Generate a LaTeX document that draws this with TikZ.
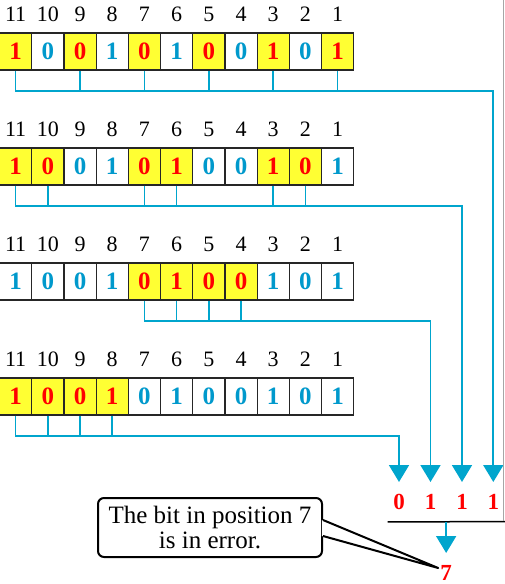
\documentclass[tikz,border=0pt]{standalone}
\usepackage{fontspec}
\setmainfont{Liberation Serif}
\usetikzlibrary{positioning, arrows.meta, calc}

\definecolor{bitcyan}{RGB}{0,153,204}
\definecolor{buscyan}{RGB}{0,165,205}
\definecolor{markyellow}{RGB}{255,255,51}
\definecolor{bitred}{RGB}{255,0,0}

\begin{document}
\begin{tikzpicture}[x=1pt, y=-1pt,
cellnode/.style={rectangle, draw=black!85, line width=1.2pt, minimum width=32.2pt, minimum height=37pt, inner sep=0pt, font=\fontsize{25}{25}\selectfont\bfseries},
paritynode/.style={cellnode, fill=markyellow, text=bitred},
datanode/.style={cellnode, fill=white, text=bitcyan},
posnode/.style={inner sep=0pt, font=\fontsize{22}{22}\selectfont},
sumnode/.style={anchor=north, inner xsep=2pt, inner ysep=12pt, text=bitred, font=\fontsize{23}{23}\selectfont\bfseries},
bus/.style={draw=buscyan, line width=1.7pt},
busarrow/.style={bus, -{Triangle[width=20pt, length=17pt]}},
calloutbox/.style={rectangle, rounded corners=6pt, draw=black, line width=2pt, minimum width=224pt, minimum height=59pt, align=center, font=\fontsize{25}{25}\selectfont},
]
\useasboundingbox (0,0) rectangle (504,584);

% codeword rows
\foreach \row/\ytop/\marked in {1/33/{11,9,7,5,3,1}, 2/148/{11,10,7,6,3,2}, 3/263/{7,6,5,4}, 4/378/{11,10,9,8}} {
  \foreach \pos/\bit [count=\k from 0] in {11/1,10/0,9/0,8/1,7/0,6/1,5/0,4/0,3/1,2/0,1/1} {
    \gdef\cellkind{datanode}
    \foreach \m in \marked {\ifnum\m=\pos\relax\gdef\cellkind{paritynode}\fi}
    \node[\cellkind] (r\row-\pos) at ({15.6+32.2*\k}, \ytop+18.5) {\bit};
    \node[posnode, above=10.5pt of r\row-\pos] (n\row-\pos) {\pos};
  }
}

% check bits
\node[sumnode] (s4) at (399,482) {0};
\node[sumnode] (s3) at (430.5,482) {1};
\node[sumnode] (s2) at (462,482) {1};
\node[sumnode] (s1) at (493.3,482) {1};
\coordinate (rulemid) at ($(s4.south)!0.5!(s1.south)$);
\node[sumnode] (err) at (rulemid |- 0,553) {7};

%Lines
\foreach \row/\first/\others/\target in {1/11/{9,7,5,3,1}/s1, 2/11/{10,7,6,3,2}/s2, 3/7/{6,5,4}/s3, 4/11/{10,9,8}/s4} {
  \draw[busarrow] (r\row-\first.south) -- ++(0,20.5) -| (\target.north);
  \foreach \p in \others \draw[bus] (r\row-\p.south) -- ++(0,20.5);
}
\draw[line width=1.5pt] ([xshift=-3.5pt]s4.south west) -- ([xshift=4pt]s1.south east);
\draw[busarrow] (rulemid) -- (err.north);

% callout
\node[calloutbox] (note) at (210,527.5) {The bit in position 7\\is in error.};
\coordinate (ta) at ([yshift=7.5pt]note.east);
\coordinate (tb) at ([yshift=-8.5pt]note.east);
\coordinate (tip) at ([yshift=-15pt]err.north west);
\fill[white] ([xshift=-1.2pt]ta) -- (tip) -- ([xshift=-1.2pt]tb) -- cycle;
\draw[line width=2pt, line join=round] (ta) -- (tip) -- (tb);

\draw[gray!70, line width=0.8pt] (503.3,0) -- (503.3,521);
\end{tikzpicture}
\end{document}
